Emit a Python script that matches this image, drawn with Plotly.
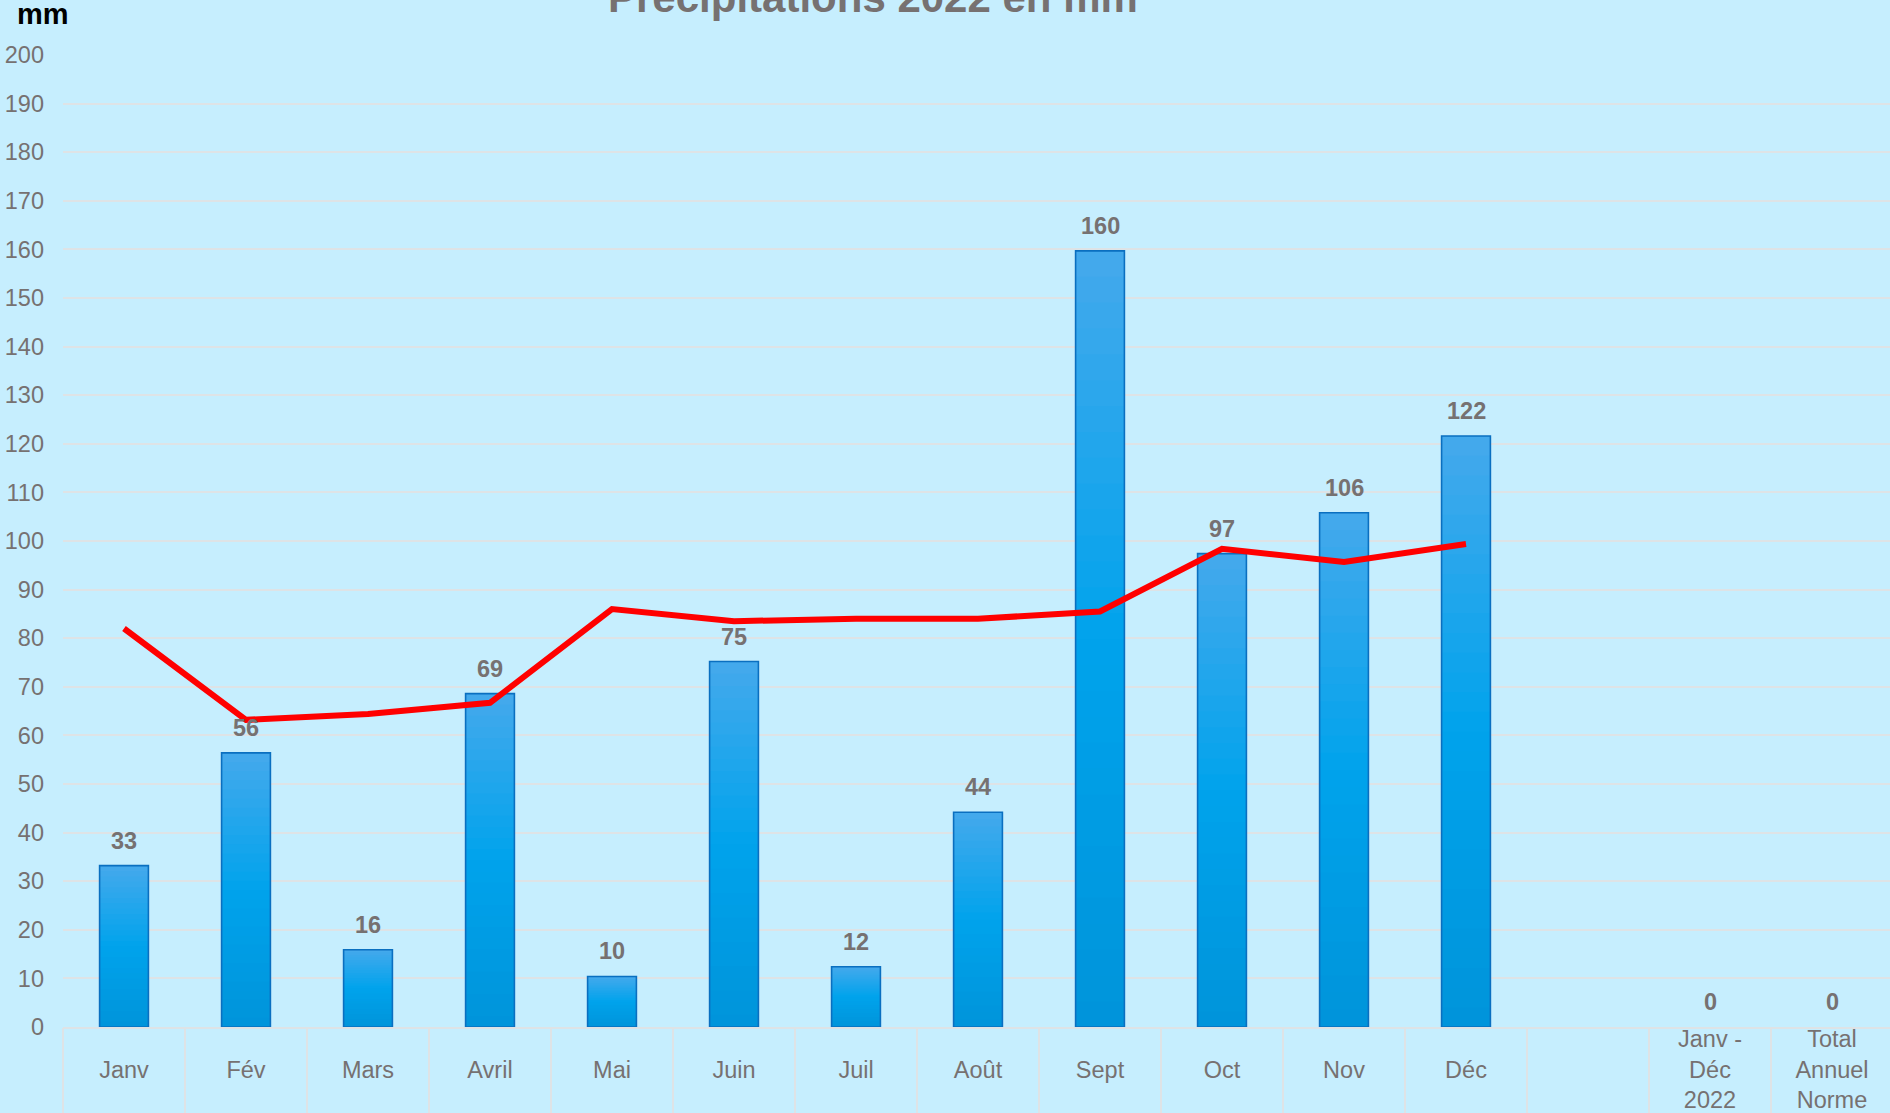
import plotly.graph_objects as go

# ---------------- data ----------------
months = ["Janv", "Fév", "Mars", "Avril", "Mai", "Juin", "Juil", "Août",
          "Sept", "Oct", "Nov", "Déc"]
precip_2022 = [33.2, 56.4, 15.9, 68.6, 10.4, 75.2, 12.4, 44.2, 159.7, 97.4, 105.8, 121.6]
norme = [82.0, 63.2, 64.4, 66.7, 86.0, 83.5, 84.0, 84.0, 85.5, 98.4, 95.7, 99.4]

blank_cat = " "
summary_cats = ["Janv - Déc 2022", "Total Annuel Norme"]
summary_values = [0, 0]

categories = months + [blank_cat] + summary_cats
tick_labels = ["<br>" + m for m in months] + [""] + ["Janv -<br>Déc<br>2022",
                                                     "Total<br>Annuel<br>Norme"]

title_text = "Précipitations 2022 en mm"
unit_text = "mm"

# ---------------- styles ----------------
FONT = "Liberation Sans, Arial, sans-serif"
GRAY = "#767171"
BG = "#C6EEFE"
GRID = "#DEE3E6"

bar_cats = months + summary_cats
bar_vals = precip_2022 + summary_values


def hex2rgb(h):
    h = h.lstrip("#")
    return tuple(int(h[i:i + 2], 16) for i in (0, 2, 4))


stops = [(0.0, hex2rgb("#0094DA")), (0.5, hex2rgb("#00A3EC")), (1.0, hex2rgb("#45A9EC"))]


def grad(t):
    for (t0, c0), (t1, c1) in zip(stops[:-1], stops[1:]):
        if t <= t1:
            f = (t - t0) / (t1 - t0)
            c = [round(a + (b - a) * f) for a, b in zip(c0, c1)]
            return "rgb(%d,%d,%d)" % tuple(c)
    return "rgb(%d,%d,%d)" % stops[-1][1]


fig = go.Figure()

N = 30
for i in range(N):
    f0 = i / N
    fig.add_bar(
        x=bar_cats,
        y=[v * (1 - f0) for v in bar_vals],
        base=[v * f0 for v in bar_vals],
        width=0.4,
        marker=dict(color=grad((i + 0.5) / N), line=dict(width=0)),
        xaxis="x", yaxis="y", showlegend=False, hoverinfo="skip",
    )

# outline of bars (no outline for empty bars)
fig.add_bar(
    x=bar_cats, y=bar_vals, width=0.4,
    marker=dict(color="rgba(0,0,0,0)",
                line=dict(color="#0A6FC0", width=[1.6 if v > 0 else 0 for v in bar_vals])),
    xaxis="x2", yaxis="y", showlegend=False, hoverinfo="skip",
)

# normal line
fig.add_scatter(
    x=months, y=norme, mode="lines",
    line=dict(color="#FF0000", width=6),
    xaxis="x2", yaxis="y", showlegend=False,
)

annotations = []
for c, v in zip(bar_cats, bar_vals):
    annotations.append(dict(
        x=c, y=v, xref="x", yref="y", text="<b>%d</b>" % round(v),
        showarrow=False, yanchor="bottom", yshift=10,
        font=dict(family=FONT, size=23.5, color=GRAY),
    ))

plot_left, plot_w = 63, 1827
annotations.append(dict(
    x=(872.5 - plot_left) / plot_w, y=1, xref="paper", yref="paper",
    text="<b>%s</b>" % title_text, showarrow=False, xanchor="center", yanchor="bottom",
    yshift=32, font=dict(family=FONT, size=42, color=GRAY),
))
annotations.append(dict(
    x=(15 - plot_left) / plot_w, y=1, xref="paper", yref="paper",
    text="<b>%s</b>" % unit_text, showarrow=False, xanchor="left", yanchor="bottom",
    yshift=23, font=dict(family=FONT, size=29, color="#000000"),
))

xr = [-0.5, 14.5 - 3 / 122]
common_x = dict(type="category", categoryorder="array", categoryarray=categories,
                range=xr, showgrid=False, zeroline=False, automargin=False)

fig.update_layout(
    width=1890, height=1113,
    margin=dict(l=plot_left, r=0, t=55, b=86),
    paper_bgcolor=BG, plot_bgcolor=BG,
    barmode="overlay",
    font=dict(family=FONT, color=GRAY),
    xaxis=dict(**common_x, tickmode="array", tickvals=categories, ticktext=tick_labels,
               showline=True, linecolor=GRID, linewidth=2, ticks="",
               ticklabelstandoff=-10,
               tickfont=dict(family=FONT, size=23.5, color=GRAY)),
    xaxis2=dict(**common_x, overlaying="x", anchor="y", side="bottom",
                tickmode="linear", tick0=0, dtick=1,
                tickson="boundaries", ticks="outside", ticklen=95, tickwidth=2,
                tickcolor=GRID, showticklabels=False, showline=False),
    yaxis=dict(range=[0, 200], tick0=0, dtick=10, showgrid=True, gridcolor=GRID,
               gridwidth=2, zeroline=False, showline=False, ticks="",
               ticklabelstandoff=18, automargin=False,
               tickfont=dict(family=FONT, size=23.5, color=GRAY)),
    annotations=annotations,
)

fig.write_html("out.html", config={"displayModeBar": False},
               post_script="document.body.style.margin='0';document.body.style.overflow='hidden';")
